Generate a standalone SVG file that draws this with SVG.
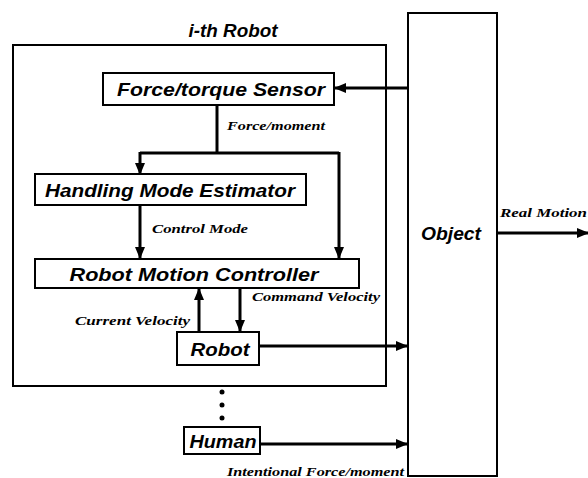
<svg xmlns="http://www.w3.org/2000/svg" width="588" height="478" viewBox="0 0 588 478">
<defs>
<marker id="ah" markerWidth="12" markerHeight="10" refX="11" refY="5" orient="auto" markerUnits="userSpaceOnUse">
<path d="M0,0 L12,5 L0,10 Z" fill="#000"/>
</marker>
<style>
.box{fill:#fff;stroke:#000;stroke-width:2}
.frame{fill:none;stroke:#000;stroke-width:2}
.bt{font-family:"Liberation Sans",Arial,sans-serif;font-weight:bold;font-style:italic;font-size:18px;fill:#000}
.lb{font-family:"Liberation Serif","Times New Roman",serif;font-weight:bold;font-style:italic;font-size:13px;fill:#000}
.ln{fill:none;stroke:#000;stroke-width:3}
.ar{fill:none;stroke:#000;stroke-width:3;marker-end:url(#ah)}
</style>
</defs>
<rect width="588" height="478" fill="#fff"/>
<g id="robot-frame">
<rect class="frame" x="13" y="45" width="373" height="341"/>
<text class="bt" x="233" y="37" text-anchor="middle" textLength="89" lengthAdjust="spacingAndGlyphs" font-size="16">i-th Robot</text>
</g>
<g id="object">
<rect class="box" x="408" y="13" width="89" height="463"/>
<text class="bt" x="451" y="240" text-anchor="middle" textLength="60" lengthAdjust="spacingAndGlyphs">Object</text>
</g>
<g id="sensor">
<rect class="box" x="103" y="73" width="231" height="32"/>
<text class="bt" x="221" y="96" text-anchor="middle" textLength="208" lengthAdjust="spacingAndGlyphs">Force/torque Sensor</text>
</g>
<g id="estimator">
<rect class="box" x="35" y="174" width="271" height="31"/>
<text class="bt" x="170" y="197" text-anchor="middle" textLength="250" lengthAdjust="spacingAndGlyphs">Handling Mode Estimator</text>
</g>
<g id="controller">
<rect class="box" x="35" y="259" width="324" height="29"/>
<text class="bt" x="194" y="281" text-anchor="middle" textLength="249" lengthAdjust="spacingAndGlyphs">Robot Motion Controller</text>
</g>
<g id="robot">
<rect class="box" x="177" y="332" width="82" height="33"/>
<text class="bt" x="220" y="356" text-anchor="middle" textLength="59" lengthAdjust="spacingAndGlyphs">Robot</text>
</g>
<g id="human">
<rect class="box" x="184" y="427" width="76" height="27"/>
<text class="bt" x="223" y="448" text-anchor="middle" textLength="67" lengthAdjust="spacingAndGlyphs">Human</text>
</g>
<g id="dots">
<circle cx="222" cy="392" r="2.5" fill="#000"/>
<circle cx="222" cy="405" r="2.5" fill="#000"/>
<circle cx="222" cy="418" r="2.5" fill="#000"/>
</g>
<g id="connectors">
<line class="ar" x1="408" y1="88" x2="335" y2="88"/>
<line class="ln" x1="217" y1="105" x2="217" y2="153"/>
<polyline class="ln" points="140,153 339,153"/>
<line class="ar" x1="140" y1="152" x2="140" y2="174"/>
<line class="ar" x1="339" y1="152" x2="339" y2="258"/>
<line class="ar" x1="140" y1="205" x2="140" y2="258"/>
<line class="ar" x1="199" y1="332" x2="199" y2="289"/>
<line class="ar" x1="240" y1="288" x2="240" y2="331"/>
<line class="ar" x1="259" y1="346" x2="407" y2="346"/>
<line class="ar" x1="260" y1="444" x2="407" y2="444"/>
<line class="ar" x1="497" y1="233" x2="588" y2="233"/>
</g>
<g id="labels">
<text class="lb" x="227" y="130" textLength="98" lengthAdjust="spacingAndGlyphs">Force/moment</text>
<text class="lb" x="152" y="233" textLength="96" lengthAdjust="spacingAndGlyphs">Control Mode</text>
<text class="lb" x="252" y="301" textLength="128" lengthAdjust="spacingAndGlyphs">Command Velocity</text>
<text class="lb" x="75" y="325" textLength="115" lengthAdjust="spacingAndGlyphs">Current Velocity</text>
<text class="lb" x="500" y="217" textLength="87" lengthAdjust="spacingAndGlyphs">Real Motion</text>
<text class="lb" x="227" y="476" textLength="177" lengthAdjust="spacingAndGlyphs">Intentional Force/moment</text>
</g>
</svg>
